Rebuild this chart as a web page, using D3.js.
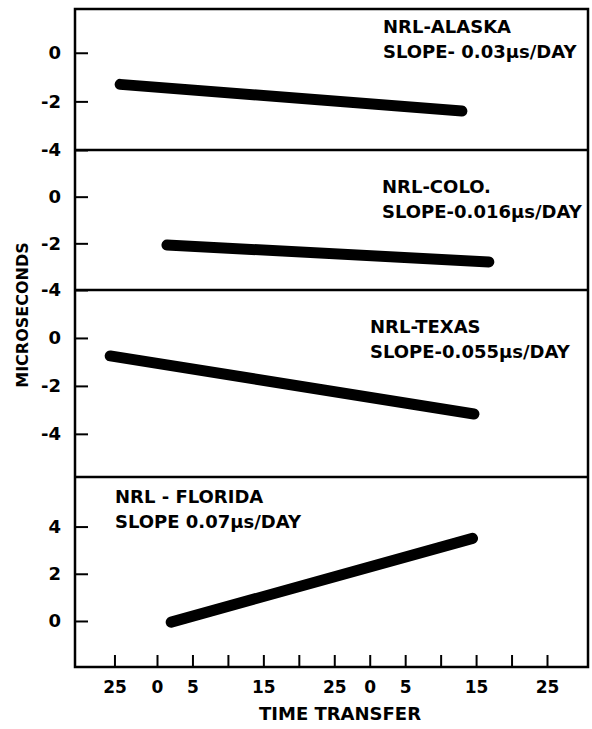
<!DOCTYPE html>
<html>
<head>
<meta charset="utf-8">
<script src="https://cdn.jsdelivr.net/npm/d3@7"></script>
<style>
  body { margin: 0; background: #fff; }
  svg text { font-family: "DejaVu Sans", "Liberation Sans", sans-serif; font-weight: bold; fill: #000; }
</style>
</head>
<body>
<svg id="chart" width="592" height="729"></svg>
<script>
// station names and slope notes, top panel first
var stations = ['NRL-ALASKA', 'NRL-COLO.', 'NRL-TEXAS', 'NRL - FLORIDA'];
var slopes = ['SLOPE- 0.03\u03bcs/DAY', 'SLOPE-0.016\u03bcs/DAY', 'SLOPE-0.055\u03bcs/DAY', 'SLOPE 0.07\u03bcs/DAY'];

// fitted line end points, days from the first "0" and microseconds
var startDay = [-5.2, 1.4, -6.6, 2.0];
var endDay = [43.0, 46.8, 44.7, 44.5];
var startUs = [-1.3, -2.07, -0.75, -0.05];
var endUs = [-2.4, -2.8, -3.17, 3.5];

// value range each panel covers, and its ticks
var yLow = [-4, -4, -5.8, -1.95];
var yHigh = [1.8, 2, 2, 6.1];
var yTicks = [[0, -2, -4], [0, -2, -4], [0, -2, -4], [4, 2, 0]];

// time axis: day of month, months of 31 and 30 days
var xTickDays = [-6, 0, 5, 10, 15, 20, 25, 30, 35, 40, 45, 50, 55];
var xTickLabels = ['25', '0', '5', '', '15', '', '25', '0', '5', '', '15', '', '25'];

var svg = d3.select('#chart');
var left = 75, right = 588;
var panelEdges = [9, 150, 290, 477, 667];
var noteX = [383, 382, 370, 115];
var noteY = [24, 43, 43, 26];

var x = d3.scaleLinear()
	.domain([0, 55])
	.range([157, 547]);

// frame
svg.append('rect')
	.attr('x', left).attr('y', panelEdges[0])
	.attr('width', right - left).attr('height', panelEdges[4] - panelEdges[0])
	.attr('fill', 'none').attr('stroke', '#000').attr('stroke-width', 2.5);

stations.forEach(function(name, i) {
	var top = panelEdges[i];
	var bottom = panelEdges[i + 1];
	var y = d3.scaleLinear()
		.domain([yLow[i], yHigh[i]])
		.range([bottom, top]);

	if (i > 0) {
		svg.append('line')
			.attr('x1', left).attr('x2', right)
			.attr('y1', top).attr('y2', top)
			.attr('stroke', '#000').attr('stroke-width', 2.5);
	}

	var axis = svg.append('g')
		.attr('transform', 'translate(' + left + ',0)')
		.call(d3.axisLeft(y)
			.tickValues(yTicks[i])
			.tickFormat(function(d){ return d < 0 ? '-' + Math.abs(d) : d; })
			.tickSizeInner(-13)
			.tickSizeOuter(0)
			.tickPadding(14));
	axis.select('.domain').remove();
	axis.selectAll('line').attr('stroke-width', 2);
	axis.selectAll('text').style('font-size', '18px');

	var pts = [[startDay[i], startUs[i]], [endDay[i], endUs[i]]];
	svg.append('path')
		.datum(pts)
		.attr('d', d3.line()
			.x(function(d){ return x(d[0]); })
			.y(function(d){ return y(d[1]); }))
		.attr('fill', 'none')
		.attr('stroke', '#000')
		.attr('stroke-width', 11)
		.attr('stroke-linecap', 'round');

	svg.append('text')
		.attr('x', noteX[i]).attr('y', top + noteY[i])
		.style('font-size', '18px')
		.text(name);
	svg.append('text')
		.attr('x', noteX[i]).attr('y', top + noteY[i] + 25)
		.style('font-size', '18px')
		.text(slopes[i]);
});

var xAxis = svg.append('g')
	.attr('transform', 'translate(0,' + panelEdges[4] + ')')
	.call(d3.axisBottom(x)
		.tickValues(xTickDays)
		.tickFormat(function(d, i){ return xTickLabels[i]; })
		.tickSizeInner(-12)
		.tickSizeOuter(0)
		.tickPadding(14));
xAxis.select('.domain').remove();
xAxis.selectAll('line').attr('stroke-width', 2);
xAxis.selectAll('text').style('font-size', '17px');

svg.append('text')
	.attr('x', 340).attr('y', 720)
	.attr('text-anchor', 'middle')
	.style('font-size', '18px')
	.text('TIME TRANSFER');

svg.append('text')
	.attr('transform', 'translate(28,315) rotate(-90)')
	.attr('text-anchor', 'middle')
	.style('font-size', '16px')
	.text('MICROSECONDS');
</script>
</body>
</html>
